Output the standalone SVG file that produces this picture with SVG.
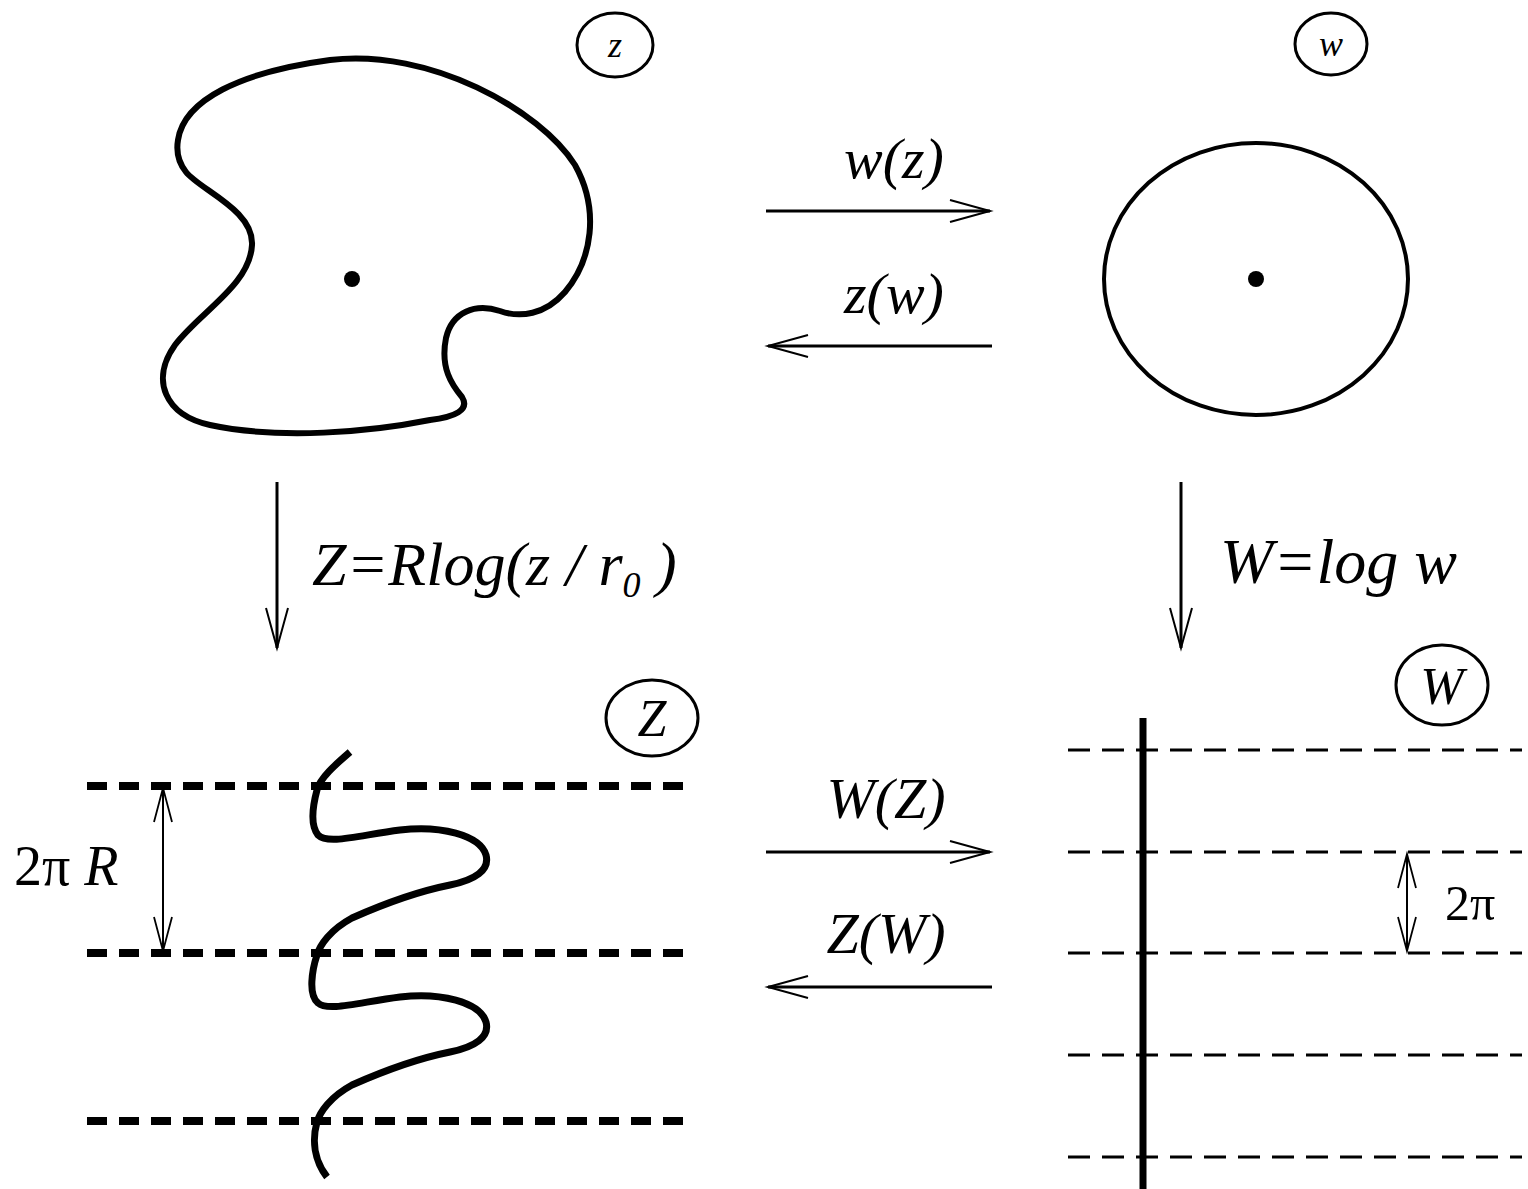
<svg xmlns="http://www.w3.org/2000/svg" width="1528" height="1189" viewBox="0 0 1528 1189">
<style>
.m{font-family:"Liberation Serif","Times New Roman",serif;font-style:italic;fill:#000}
.u{font-family:"Liberation Serif","Times New Roman",serif;fill:#000}
.ring{fill:none;stroke:#000;stroke-width:3}
.arr{fill:none;stroke:#000;stroke-width:3}
.thin{fill:none;stroke:#000;stroke-width:2}
</style>
<defs>
<marker id="ah" markerUnits="userSpaceOnUse" markerWidth="46" markerHeight="26" refX="42" refY="13" orient="auto-start-reverse" overflow="visible">
<path d="M2 2 L42 13 L2 24" fill="none" stroke="#000" stroke-width="2"/>
</marker>
<marker id="ahs" markerUnits="userSpaceOnUse" markerWidth="40" markerHeight="22" refX="36" refY="11" orient="auto-start-reverse" overflow="visible">
<path d="M2 2 L36 11 L2 20" fill="none" stroke="#000" stroke-width="1.8"/>
</marker>
</defs>

<g id="plane-z">
<path d="M178 140 C184 100,240 72,330 60 C430 48,540 110,575 165 C600 210,592 260,565 292 C545 315,520 318,500 311 C475 303,452 312,446 338 C440 368,452 385,462 397 C470 410,455 417,430 420 C370 432,280 440,210 425 C165 415,150 380,175 345 C200 312,250 285,252 245 C254 210,200 190,186 172 C178 162,176 152,178 140 Z" fill="none" stroke="#000" stroke-width="6"/>
<circle cx="352" cy="279" r="8" fill="#000"/>
<ellipse class="ring" cx="615" cy="45" rx="38" ry="32"/>
<text class="m" x="615" y="57" font-size="36" text-anchor="middle">z</text>
</g>

<g id="plane-w">
<ellipse cx="1256" cy="279" rx="152" ry="136" fill="none" stroke="#000" stroke-width="4"/>
<circle cx="1256" cy="279" r="8" fill="#000"/>
<ellipse class="ring" cx="1331" cy="44" rx="36" ry="31"/>
<text class="m" x="1331" y="56" font-size="36" text-anchor="middle">w</text>
</g>

<g id="plane-Z">
<g stroke="#000" stroke-width="8" stroke-dasharray="20 12">
<line x1="87" y1="786" x2="685" y2="786"/>
<line x1="87" y1="953" x2="685" y2="953"/>
<line x1="87" y1="1121" x2="685" y2="1121"/>
</g>
<path d="M350 752 C335 765,320 778,317 790 C313 805,310 825,318 835 C328 845,360 835,400 830 C440 825,480 835,486 855 C490 870,475 880,450 885 C410 893,370 910,352 918 C330 930,320 945,317 955 C312 970,308 995,318 1003 C328 1012,360 1002,400 997 C440 992,480 1002,486 1022 C490 1037,475 1047,450 1052 C410 1060,370 1077,352 1085 C330 1097,320 1112,317 1122 C312 1140,314 1160,327 1177" fill="none" stroke="#000" stroke-width="7"/>
<line class="thin" x1="163" y1="788" x2="163" y2="951" marker-start="url(#ahs)" marker-end="url(#ahs)"/>
<text x="14" y="885" font-size="56"><tspan class="u">2π </tspan><tspan class="m">R</tspan></text>
<ellipse class="ring" cx="652" cy="718" rx="46" ry="38"/>
<text class="m" x="652" y="736" font-size="52" text-anchor="middle">Z</text>
</g>

<g id="plane-W">
<g stroke="#000" stroke-width="3" stroke-dasharray="22 12">
<line x1="1068" y1="750" x2="1522" y2="750"/>
<line x1="1068" y1="852" x2="1522" y2="852"/>
<line x1="1068" y1="953" x2="1522" y2="953"/>
<line x1="1068" y1="1055" x2="1522" y2="1055"/>
<line x1="1068" y1="1157" x2="1522" y2="1157"/>
</g>
<line x1="1143" y1="718" x2="1143" y2="1189" stroke="#000" stroke-width="7"/>
<line class="thin" x1="1407" y1="854" x2="1407" y2="951" marker-start="url(#ahs)" marker-end="url(#ahs)"/>
<text class="u" x="1445" y="920" font-size="50">2π</text>
<ellipse class="ring" cx="1442" cy="685" rx="46" ry="40"/>
<text class="m" x="1442" y="704" font-size="52" text-anchor="middle">W</text>
</g>

<g id="connectors">
<line class="arr" x1="766" y1="211" x2="990" y2="211" marker-end="url(#ah)"/>
<line class="arr" x1="992" y1="346" x2="768" y2="346" marker-end="url(#ah)"/>
<line class="arr" x1="766" y1="852" x2="990" y2="852" marker-end="url(#ah)"/>
<line class="arr" x1="992" y1="987" x2="768" y2="987" marker-end="url(#ah)"/>
<line class="arr" x1="277" y1="482" x2="277" y2="648" marker-end="url(#ah)"/>
<line class="arr" x1="1181" y1="482" x2="1181" y2="648" marker-end="url(#ah)"/>
<text class="m" x="894" y="178" font-size="58" text-anchor="middle">w(z)</text>
<text class="m" x="894" y="313" font-size="58" text-anchor="middle">z(w)</text>
<text class="m" x="886" y="818" font-size="58" text-anchor="middle">W(Z)</text>
<text class="m" x="886" y="953" font-size="58" text-anchor="middle">Z(W)</text>
<text class="m" x="312" y="585" font-size="62">Z<tspan class="u">=</tspan>Rlog(z / r<tspan font-size="36" dy="12">0</tspan><tspan dy="-12"> )</tspan></text>
<text class="m" x="1220" y="583" font-size="64">W<tspan class="u">=</tspan>log w</text>
</g>
</svg>
